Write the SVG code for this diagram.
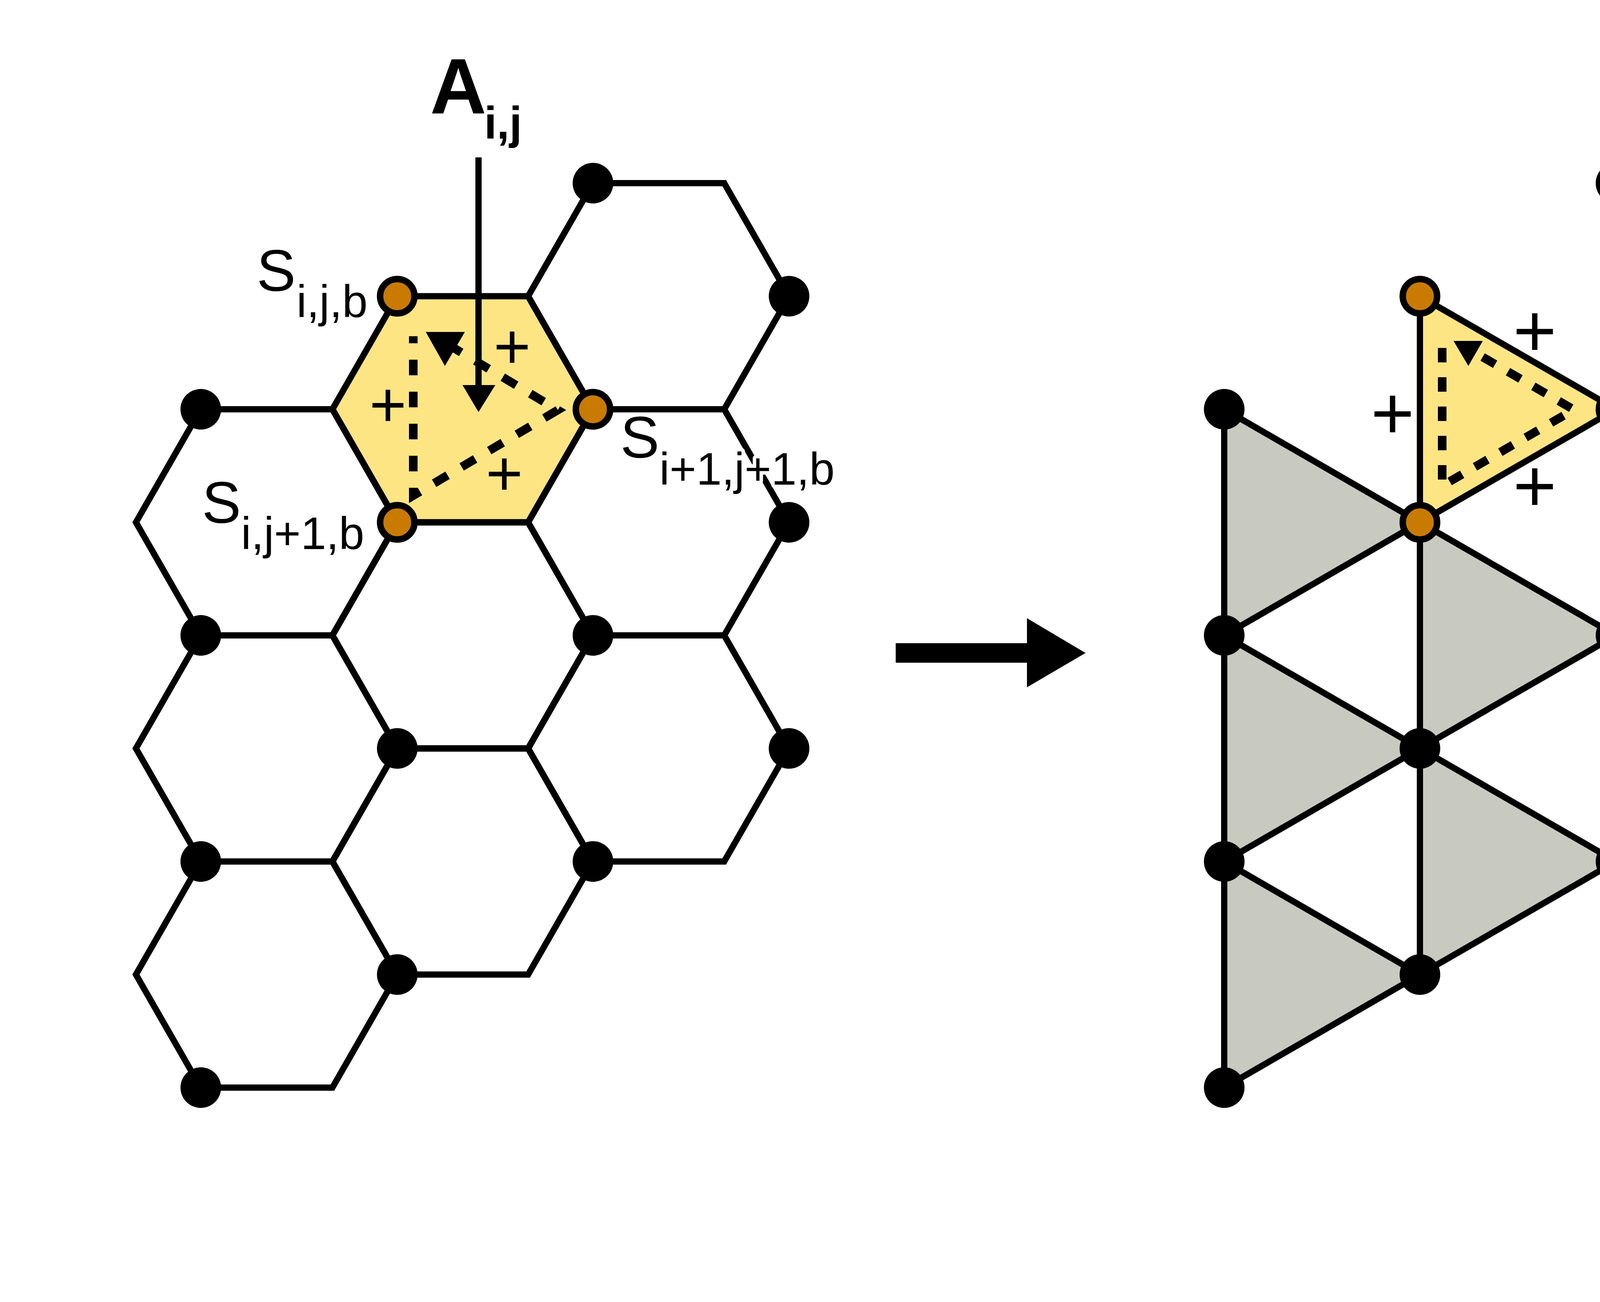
<svg xmlns="http://www.w3.org/2000/svg" width="5000" height="3334" viewBox="0 0 5000 3334">
<style>
.e{fill:none;stroke:#000;stroke-width:16;stroke-linejoin:miter;stroke-linecap:butt}
.bn{fill:#000}
.on{fill:#c87b00;stroke:#000;stroke-width:16.5}
.gray{fill:#c8cac0;stroke:none}
.yel{fill:#fde584}
.dash{fill:none;stroke:#000;stroke-width:22;stroke-linejoin:miter;stroke-linecap:butt}
.lbl{font-family:"Liberation Sans",Arial,Helvetica,sans-serif;fill:#000;stroke:#fff;stroke-width:18;stroke-linejoin:round;paint-order:stroke}
.plus{font-family:"Liberation Sans",Arial,Helvetica,sans-serif;fill:#000;text-anchor:middle}
</style>
<rect x="0" y="0" width="5000" height="3334" fill="#fff"/>

<!-- LEFT: honeycomb lattice -->
<g id="left-fills">
<polygon class="yel" points="851,1048 1017,758.5 1352,758.5 1518,1048 1352,1337.5 1017,1337.5"/>
</g>
<g id="connectors">
<g id="left-hex-edges">
<polygon class="e" points="348,1337.5 514,1048 851,1048 1017,1337.5 851,1627 514,1627"/>
<polygon class="e" points="348,1916.5 514,1627 851,1627 1017,1916.5 851,2206 514,2206"/>
<polygon class="e" points="348,2495.5 514,2206 851,2206 1017,2495.5 851,2785 514,2785"/>
<polygon class="e" points="851,1048 1017,758.5 1352,758.5 1518,1048 1352,1337.5 1017,1337.5"/>
<polygon class="e" points="851,1627 1017,1337.5 1352,1337.5 1518,1627 1352,1916.5 1017,1916.5"/>
<polygon class="e" points="851,2206 1017,1916.5 1352,1916.5 1518,2206 1352,2495.5 1017,2495.5"/>
<polygon class="e" points="1352,758.5 1518,469 1854,469 2020,758.5 1854,1048 1518,1048"/>
<polygon class="e" points="1352,1337.5 1518,1048 1854,1048 2020,1337.5 1854,1627 1518,1627"/>
<polygon class="e" points="1352,1916.5 1518,1627 1854,1627 2020,1916.5 1854,2206 1518,2206"/>
</g>

<!-- RIGHT: triangular lattice fills -->
<g id="right-fills">
<polygon class="gray" points="4137,469 4637,758.5 4137,1048"/>
<polygon class="gray" points="4137,1048 4637,1337.5 4137,1627"/>
<polygon class="gray" points="4137,1627 4637,1916.5 4137,2206"/>
<polygon class="gray" points="3635,1337.5 4137,1627 3635,1916.5"/>
<polygon class="gray" points="3635,1916.5 4137,2206 3635,2495.5"/>
<polygon class="gray" points="3134,1048 3635,1337.5 3134,1627"/>
<polygon class="gray" points="3134,1627 3635,1916.5 3134,2206"/>
<polygon class="gray" points="3134,2206 3635,2495.5 3134,2785"/>
<polygon class="yel" points="3635,758.5 4137,1048 3635,1337.5"/>
</g>
<g id="right-edges">
<line class="e" x1="3134" y1="1048" x2="3134" y2="2785"/>
<line class="e" x1="3635" y1="758.5" x2="3635" y2="2495.5"/>
<line class="e" x1="4137" y1="469" x2="4137" y2="2206"/>
<polyline class="e" points="4137,469 4637,758.5 4137,1048 4637,1337.5 4137,1627 4637,1916.5 4137,2206"/>
<polyline class="e" points="3635,758.5 4137,1048 3635,1337.5 4137,1627 3635,1916.5 4137,2206 3635,2495.5"/>
<polyline class="e" points="3134,1048 3635,1337.5 3134,1627 3635,1916.5 3134,2206 3635,2495.5 3134,2785"/>
</g>

<!-- transformation arrow -->
<polygon id="big-arrow" fill="#000" points="2293,1647 2629,1647 2629,1583 2779,1672 2629,1760 2629,1697 2293,1697"/>
</g>

<!-- LEFT nodes -->
<g id="L-a1-r2"><circle class="bn" cx="514" cy="1048" r="52"/></g>
<g id="L-a1-r4"><circle class="bn" cx="514" cy="1627" r="52"/></g>
<g id="L-a1-r6"><circle class="bn" cx="514" cy="2206" r="52"/></g>
<g id="L-a1-r8"><circle class="bn" cx="514" cy="2785" r="52"/></g>
<g id="L-S-i-j-b"><circle class="on" cx="1017" cy="758.5" r="44"/></g>
<g id="L-S-i-j1-b"><circle class="on" cx="1017" cy="1337.5" r="44"/></g>
<g id="L-a3-r5"><circle class="bn" cx="1017" cy="1916.5" r="52"/></g>
<g id="L-a3-r7"><circle class="bn" cx="1017" cy="2495.5" r="52"/></g>
<g id="L-a5-r0"><circle class="bn" cx="1518" cy="469" r="52"/></g>
<g id="L-S-i1-j1-b"><circle class="on" cx="1518" cy="1048" r="44"/></g>
<g id="L-a5-r4"><circle class="bn" cx="1518" cy="1627" r="52"/></g>
<g id="L-a5-r6"><circle class="bn" cx="1518" cy="2206" r="52"/></g>
<g id="L-a7-r1"><circle class="bn" cx="2020" cy="758.5" r="52"/></g>
<g id="L-a7-r3"><circle class="bn" cx="2020" cy="1337.5" r="52"/></g>
<g id="L-a7-r5"><circle class="bn" cx="2020" cy="1916.5" r="52"/></g>

<!-- RIGHT nodes -->
<g id="R-b0-r2"><circle class="bn" cx="3134" cy="1048" r="52"/></g>
<g id="R-b0-r4"><circle class="bn" cx="3134" cy="1627" r="52"/></g>
<g id="R-b0-r6"><circle class="bn" cx="3134" cy="2206" r="52"/></g>
<g id="R-b0-r8"><circle class="bn" cx="3134" cy="2785" r="52"/></g>
<g id="R-b1-r1"><circle class="on" cx="3635" cy="758.5" r="44"/></g>
<g id="R-b1-r3"><circle class="on" cx="3635" cy="1337.5" r="44"/></g>
<g id="R-b1-r5"><circle class="bn" cx="3635" cy="1916.5" r="52"/></g>
<g id="R-b1-r7"><circle class="bn" cx="3635" cy="2495.5" r="52"/></g>
<g id="R-b2-r0"><circle class="bn" cx="4137" cy="469" r="52"/></g>
<g id="R-b2-r2"><circle class="on" cx="4137" cy="1048" r="44"/></g>
<g id="R-b2-r4"><circle class="bn" cx="4137" cy="1627" r="52"/></g>
<g id="R-b2-r6"><circle class="bn" cx="4137" cy="2206" r="52"/></g>
<g id="R-b3-r1"><circle class="bn" cx="4637" cy="758.5" r="52"/></g>
<g id="R-b3-r3"><circle class="bn" cx="4637" cy="1337.5" r="52"/></g>
<g id="R-b3-r5"><circle class="bn" cx="4637" cy="1916.5" r="52"/></g>

<!-- dotted circulation loops -->
<g id="loop-left">
<path class="dash" d="M1058,861 L1058,1269 L1428,1050 L1160,890" stroke-dasharray="40 42" stroke-dashoffset="22"/>
<polygon fill="#000" points="1090,850 1190,850 1139,937"/>
</g>
<g id="loop-right">
<path class="dash" d="M3692,891 L3692,1244 L4029,1049 L3790,911" stroke-dasharray="37 38"/>
<polygon fill="#000" points="3721,873 3796,873 3759,937"/>
</g>

<!-- A_ij arrow -->
<g id="A-arrow">
<line x1="1225" y1="403" x2="1225" y2="990" stroke="#000" stroke-width="16"/>
<polygon fill="#000" points="1184,986 1268,986 1225,1055"/>
</g>

<!-- plus signs -->
<g id="plus-left" font-size="163">
<text class="plus" x="1311" y="943">+</text>
<text class="plus" x="993" y="1092">+</text>
<text class="plus" x="1291" y="1268">+</text>
</g>
<g id="plus-right" font-size="191">
<text class="plus" x="3929" y="913">+</text>
<text class="plus" x="3565" y="1124">+</text>
<text class="plus" x="3929" y="1310">+</text>
</g>

<!-- labels -->
<g id="labels">
<text class="lbl" x="1101" y="290" font-size="200" font-weight="bold">A<tspan font-size="116" dx="-6" dy="65">i,j</tspan></text>
<text class="lbl" x="657" y="745" font-size="150">S<tspan font-size="117" dx="2" dy="67">i,j,b</tspan></text>
<text class="lbl" x="517" y="1339" font-size="150">S<tspan font-size="117" dy="67">i,j+1,b</tspan></text>
<text class="lbl" x="1588" y="1172" font-size="150">S<tspan font-size="117" dy="69">i+1,j+1,b</tspan></text>
</g>
</svg>
